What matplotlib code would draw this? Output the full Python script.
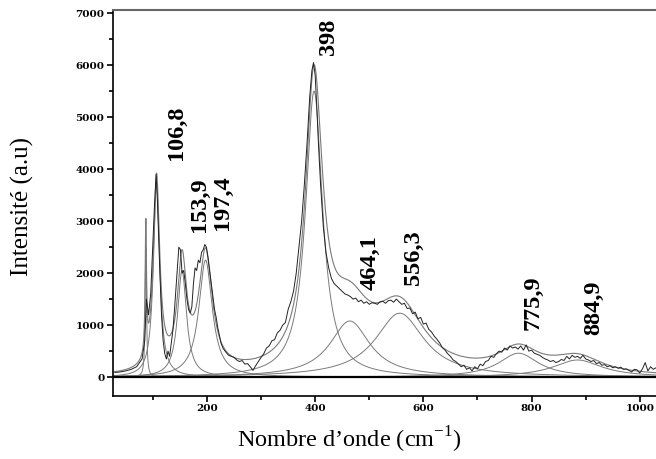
import numpy as np
import matplotlib

matplotlib.use("Agg")
import matplotlib.pyplot as plt
from matplotlib.ticker import MultipleLocator

plt.rcParams["font.family"] = ["Liberation Serif", "DejaVu Serif"]
plt.rcParams["mathtext.fontset"] = "custom"
plt.rcParams["mathtext.rm"] = "Liberation Serif"

SPEC_X = [30, 40, 50, 60, 70, 80, 85, 88, 92, 96, 100, 103, 106, 108, 110, 113, 116,
          119, 122, 125, 128, 131, 134, 137, 140, 144, 148, 151, 154, 157, 160, 163,
          166, 169, 172, 175, 178, 181, 184, 187, 190, 193, 196, 199, 202, 205, 208,
          211, 214, 217, 220, 223, 226, 230, 235, 240, 245, 250, 255, 260, 265, 270,
          275, 280, 285, 290, 295, 300, 305, 310, 315, 320, 325, 330, 335, 340, 345,
          350, 355, 360, 365, 370, 375, 380, 385, 390, 394, 397, 400, 403, 406, 410,
          415, 420, 425, 430, 435, 440, 445, 450, 455, 460, 465, 470, 475, 480, 485,
          490, 495, 500, 505, 510, 515, 520, 525, 530, 535, 540, 545, 550, 555, 560,
          565, 570, 575, 580, 585, 590, 595, 600, 605, 610, 615, 620, 625, 630, 635,
          640, 645, 650, 655, 660, 665, 670, 675, 680, 685, 690, 695, 700, 705, 710,
          715, 720, 725, 730, 735, 740, 745, 750, 755, 760, 765, 770, 775, 780, 785,
          790, 795, 800, 805, 810, 815, 820, 825, 830, 835, 840, 845, 850, 855, 860,
          865, 870, 875, 880, 885, 890, 895, 900, 905, 910, 915, 920, 925, 930, 935,
          940, 945, 950, 955, 960, 965, 970, 975, 980, 985, 990, 995, 1000, 1005, 1010,
          1015, 1020, 1025, 1030]
SPEC_Y = [90, 100, 120, 150, 200, 350, 700, 1500, 1200, 1600, 2600, 3300, 3900, 3500,
          2900, 2000, 1200, 700, 450, 350, 500, 400, 650, 900, 1300, 1900, 2500, 2450,
          2000, 2050, 1800, 1500, 1300, 1230, 1350, 1800, 2100, 2050, 2250, 2200, 2400,
          2450, 2550, 2500, 2300, 2050, 1800, 1550, 1300, 1150, 950, 800, 650, 550, 480,
          420, 400, 380, 330, 300, 320, 250, 260, 200, 130, 220, 300, 380, 450, 560, 600,
          700, 720, 850, 900, 1000, 1050, 1300, 1450, 1650, 2000, 2500, 3000, 3700, 4500,
          5400, 5900, 6050, 5800, 5200, 4500, 3700, 2900, 2400, 2100, 1900, 1800, 1750,
          1700, 1650, 1600, 1580, 1550, 1500, 1520, 1450, 1480, 1420, 1450, 1400, 1430,
          1420, 1400, 1450, 1460, 1420, 1470, 1480, 1440, 1500, 1450, 1400, 1420, 1320,
          1330, 1220, 1250, 1120, 1150, 1020, 1040, 920, 870, 790, 730, 660, 570, 520,
          450, 400, 330, 300, 250, 200, 230, 150, 180, 120, 200, 160, 250, 220, 300, 320,
          400, 380, 450, 500, 480, 560, 520, 600, 560, 580, 540, 600, 520, 620, 500, 520,
          460, 440, 420, 380, 350, 330, 300, 320, 280, 300, 340, 320, 400, 350, 420, 380,
          400, 360, 420, 350, 330, 300, 320, 260, 280, 230, 240, 200, 220, 180, 200, 170,
          190, 150, 160, 130, 100, 150, 140, 80, 160, 280, 120, 200, 150, 180]

# composantes lorentziennes de l'ajustement : centre, hauteur, demi-largeur
PEAK_CENTER = [87.0, 106.8, 153.9, 197.4, 398.0, 464.1, 556.3, 775.9, 884.9]
PEAK_HEIGHT = [2500, 3700, 2050, 2250, 5500, 1080, 1230, 460, 330]
PEAK_HWHM = [1.5, 7, 10, 15, 19, 45, 55, 45, 55]

LABELS = ["106,8", "153,9", "197,4", "398", "464,1", "556,3", "775,9", "884,9"]
LABEL_X = [143, 187, 228, 424, 502, 581, 803, 914]
LABEL_Y = [4170, 2790, 2830, 6190, 1670, 1770, 900, 810]


def main() -> None:
    fig = plt.figure(figsize=(6.56, 4.59), dpi=100)
    ax = fig.add_axes([0.172, 0.137, 0.828, 0.841])

    grid = np.linspace(26, 1035, 2000)
    total = np.zeros_like(grid)
    for c, h, w in zip(PEAK_CENTER, PEAK_HEIGHT, PEAK_HWHM):
        comp = h * w ** 2 / ((grid - c) ** 2 + w ** 2)
        total += comp
        ax.plot(grid, comp, color="#7a7a7a", lw=0.7)
    ax.plot(grid, total, color="#7a7a7a", lw=0.8)
    ax.plot(SPEC_X, SPEC_Y, color="#222222", lw=0.7)
    ax.axhline(0, color="black", lw=1.6)

    for text, x, y in zip(LABELS, LABEL_X, LABEL_Y):
        ax.text(x, y, text, rotation=90, ha="center", va="bottom",
                fontsize=17.5, fontweight="bold")

    ax.set_xlim(26, 1030)
    ax.set_ylim(-365, 7058)
    ax.xaxis.set_major_locator(MultipleLocator(200))
    ax.xaxis.set_minor_locator(MultipleLocator(100))
    ax.yaxis.set_major_locator(MultipleLocator(1000))
    ax.yaxis.set_minor_locator(MultipleLocator(500))
    ax.tick_params(which="both", direction="out", width=1.2)
    ax.tick_params(which="major", length=4, pad=2, labelsize=7.5)
    ax.tick_params(which="minor", length=3)
    for lab in ax.get_xticklabels() + ax.get_yticklabels():
        lab.set_fontfamily("DejaVu Serif")
        lab.set_fontweight("bold")

    ax.spines["right"].set_visible(False)
    ax.spines["top"].set_color("#666666")
    ax.spines["top"].set_linewidth(1.5)
    ax.spines["left"].set_linewidth(1.2)
    ax.spines["bottom"].set_linewidth(1.2)

    # titres placés à la main : celui de x n'est pas centré sur les axes
    fig.text(349 / 656, 1 - 440 / 459, "Nombre d\u2019onde (cm$^{\\mathrm{-1}}$)",
             fontsize=17.5, ha="center", va="center")
    fig.text(22 / 656, 1 - 206 / 459, "Intensit\u00e9 (a.u)", fontsize=18,
             rotation=90, ha="center", va="center")

    fig.savefig("out.png", dpi=100)


if __name__ == "__main__":
    main()
